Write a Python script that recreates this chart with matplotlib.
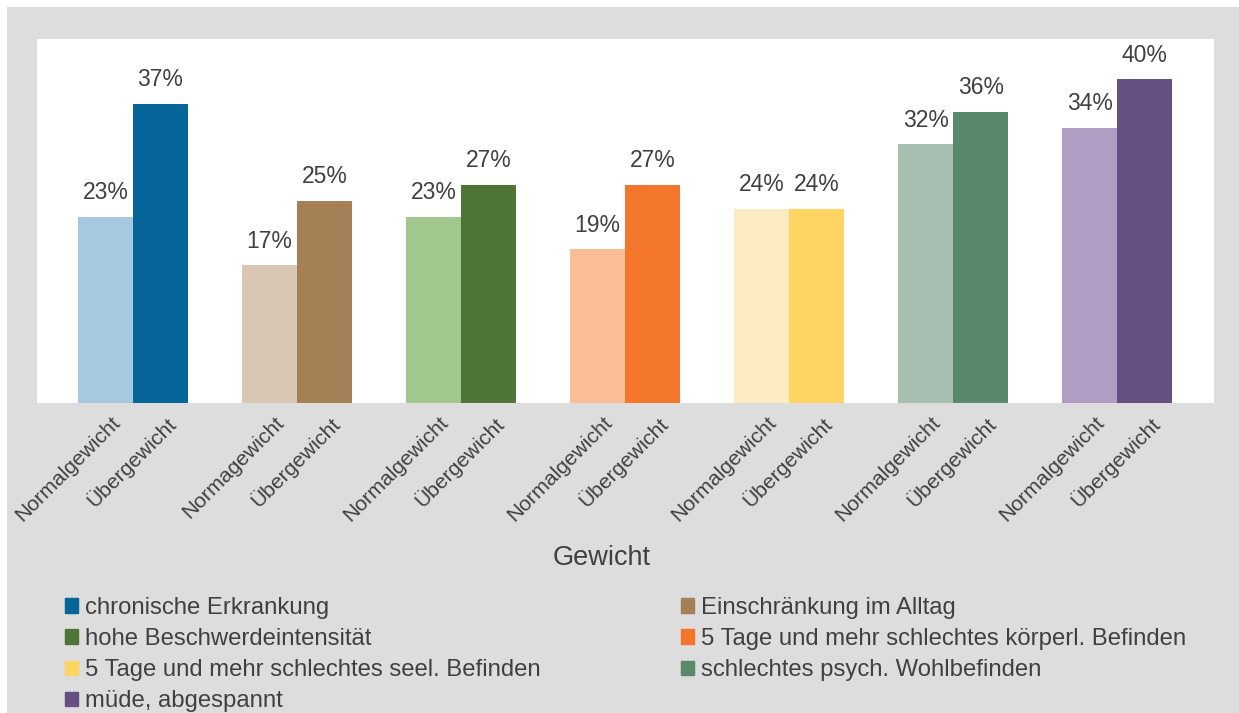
import numpy as np
import matplotlib
matplotlib.use('Agg')
import matplotlib.pyplot as plt
from matplotlib.patches import Rectangle
from matplotlib.transforms import ScaledTranslation

plt.rcParams['font.family'] = ['Liberation Sans', 'DejaVu Sans']

# data (share in %)
groups = ['chronische Erkrankung', 'Einschränkung im Alltag', 'hohe Beschwerdeintensität',
          '5 Tage und mehr schlechtes körperl. Befinden', '5 Tage und mehr schlechtes seel. Befinden',
          'schlechtes psych. Wohlbefinden', 'müde, abgespannt']
normal = [23, 17, 23, 19, 24, 32, 34]
over = [37, 25, 27, 27, 24, 36, 40]
normal_labels = ['Normalgewicht', 'Normagewicht', 'Normalgewicht', 'Normalgewicht',
                 'Normalgewicht', 'Normalgewicht', 'Normalgewicht']
over_labels = ['Übergewicht'] * 7

light_cols = ['#a6c8e1', '#d9c6b3', '#a2c78d', '#fbbd97', '#feeac0', '#a6bfb0', '#b19cc4']
dark_cols = ['#066599', '#a57f56', '#4f7536', '#f3762a', '#fed462', '#58896b', '#654f83']

txt = '#404040'

fig = plt.figure(figsize=(12.39, 7.13), dpi=100)
fig.patch.set_facecolor('white')
fig.patches.append(Rectangle((7/1239, 0), 1, (713-7)/713, transform=fig.transFigure,
                             facecolor='#dddddd', edgecolor='none', zorder=-10))

ax = fig.add_axes([37/1239, 1-403/713, (1214-37)/1239, (403-39)/713])
ax.set_facecolor('white')

x = np.arange(len(groups))
w = 0.335
b1 = ax.bar(x - w/2, normal, w, color=light_cols)
b2 = ax.bar(x + w/2, over, w, color=dark_cols)

for bars, vals in [(b1, normal), (b2, over)]:
    for r, v in zip(bars, vals):
        ax.annotate(f'{v}%', (r.get_x() + r.get_width()/2, v), xytext=(0, 9),
                    textcoords='offset points', ha='center', va='bottom',
                    fontsize=16.5, color=txt)

ax.set_ylim(0, 45)
ax.set_xlim(-0.585, 6.59)
ax.set_yticks([])
for s in ax.spines.values():
    s.set_visible(False)

ticks = np.ravel(np.column_stack([x - w/2, x + w/2]))
labels = [l for pair in zip(normal_labels, over_labels) for l in pair]
ax.set_xticks(ticks)
ax.set_xticklabels(labels, rotation=45, ha='right', va='top', rotation_mode='anchor',
                   fontsize=15.2, color=txt)
ax.tick_params(axis='x', length=0, pad=0)
off = ScaledTranslation(5/100, -10/100, fig.dpi_scale_trans)
for lab in ax.get_xticklabels():
    lab.set_transform(lab.get_transform() + off)

fig.text(602/1239, 1-558/713, 'Gewicht', ha='center', va='center', fontsize=19.5, color=txt)

# legend: row-wise order in two columns
order = [0, 2, 4, 6, 1, 3, 5]
handles = [plt.Rectangle((0, 0), 1, 1, color=dark_cols[i]) for i in order]
leg = fig.legend(handles, [groups[i] for i in order], ncol=2, frameon=False,
                 loc='upper left', bbox_to_anchor=(65/1239, 1-597/713),
                 fontsize=17.2, handlelength=0.55, handleheight=0.55, handletextpad=0.27,
                 labelspacing=0.38, columnspacing=5.9, borderpad=0, borderaxespad=0)
for t in leg.get_texts():
    t.set_color(txt)

fig.savefig('out.png', dpi=100, facecolor=fig.get_facecolor())
